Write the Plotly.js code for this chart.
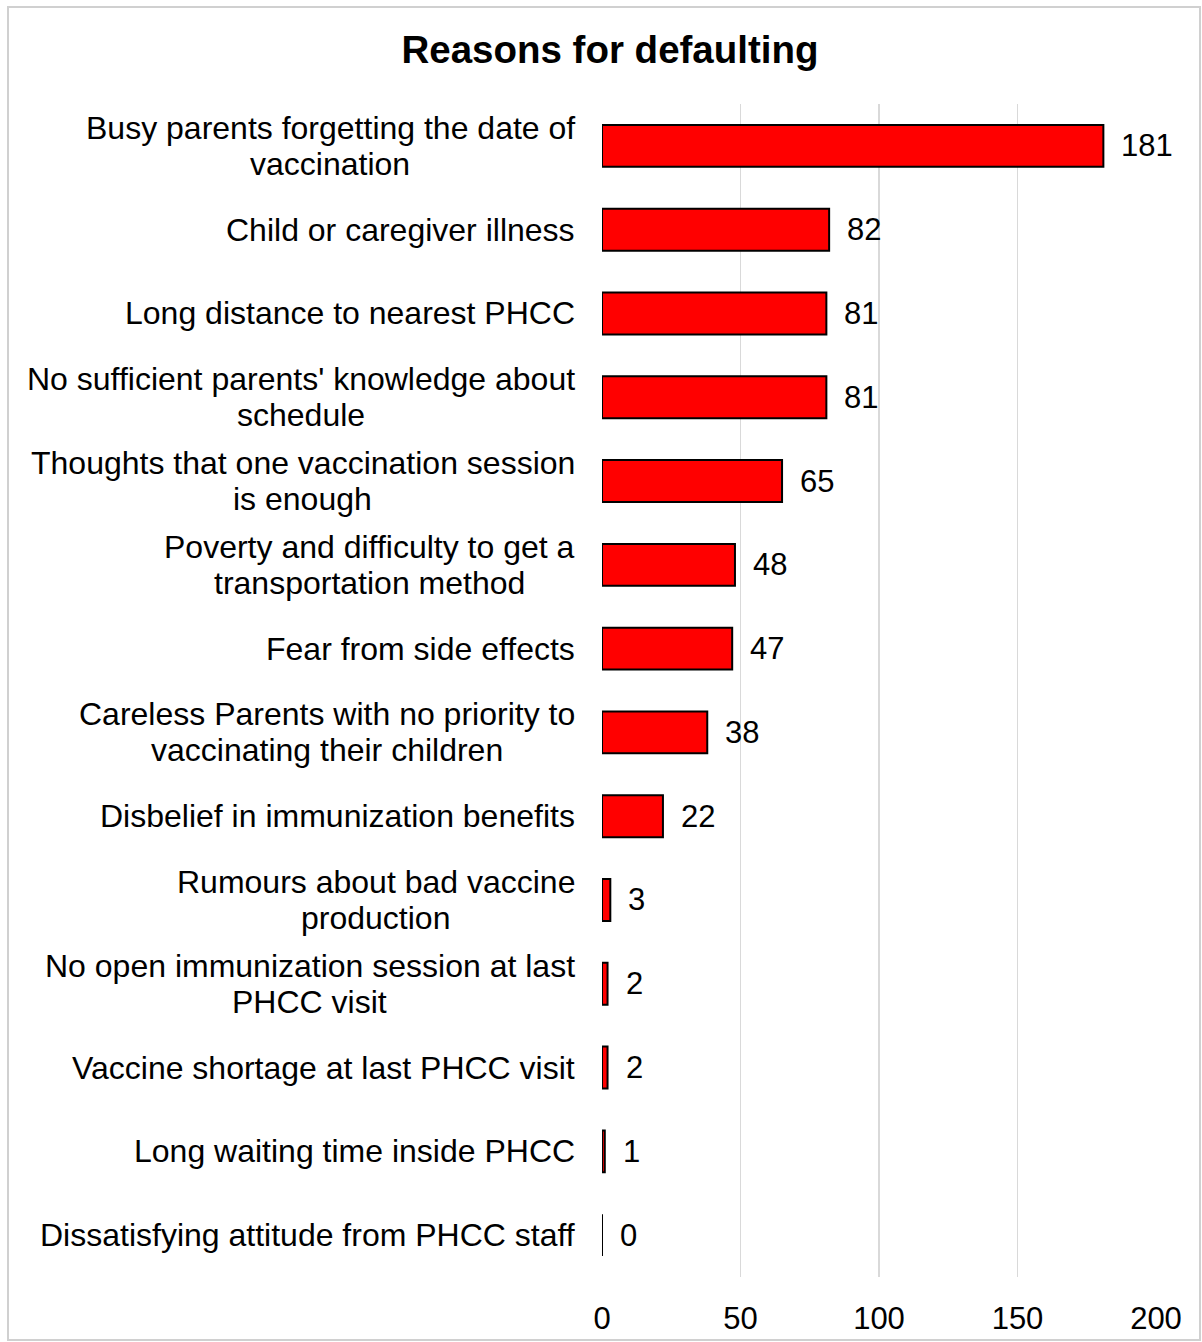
<!DOCTYPE html>
<html>
<head>
<meta charset="utf-8">
<script src="https://cdn.plot.ly/plotly-3.0.1.min.js"></script>
<style>
  html, body { margin: 0; padding: 0; background: #ffffff; }
  #chart { width: 1202px; height: 1342px; }
</style>
</head>
<body>
<div id="chart"></div>
<script>
const categories = [
  "Busy parents forgetting the date of<br>vaccination",
  "Child or caregiver illness",
  "Long distance to nearest PHCC",
  "No sufficient parents' knowledge about<br>schedule",
  "Thoughts that one vaccination session<br>is enough",
  "Poverty and difficulty to get a<br>transportation method",
  "Fear from side effects",
  "Careless Parents with no priority to<br>vaccinating their children",
  "Disbelief in immunization benefits",
  "Rumours about bad vaccine<br>production",
  "No open immunization session at last<br>PHCC visit",
  "Vaccine shortage at last PHCC visit",
  "Long waiting time inside PHCC",
  "Dissatisfying attitude from PHCC staff"
];
const counts = [181, 82, 81, 81, 65, 48, 47, 38, 22, 3, 2, 2, 1, 0];
const xTicks = [0, 50, 100, 150, 200];
const chartTitle = "Reasons for defaulting";

const FONT = "Liberation Sans, Arial, sans-serif";
const FS = 31;
const LABEL_FS = 32;
const LINE = 36;

const trace = {
  type: "bar",
  orientation: "h",
  x: counts,
  y: categories,
  marker: { color: "#ff0000", line: { color: "#000000", width: 2 } },
  hoverinfo: "x+y"
};

const valueLabels = categories.map((c, i) => ({
  x: counts[i], y: c, xref: "x", yref: "y",
  text: String(counts[i]), showarrow: false,
  xanchor: "left", yanchor: "middle", xshift: 16,
  font: { family: FONT, size: FS, color: "#000000" }
}));

function measure(text) {
  const cv = document.createElement("canvas").getContext("2d");
  cv.font = LABEL_FS + "px " + FONT;
  return cv.measureText(text).width;
}

// Multi-line labels are centred on their widest line, whose right edge sits next to the axis.
const catLabels = [];
categories.forEach((c) => {
  const lines = c.split("<br>");
  const n = lines.length;
  const maxW = Math.max.apply(null, lines.map(measure));
  lines.forEach((ln, k) => {
    catLabels.push({
      x: 0, y: c, xref: "x", yref: "y",
      text: ln, showarrow: false,
      xanchor: "right", yanchor: "middle",
      xshift: -25 - (maxW - measure(ln)) / 2,
      yshift: ((n - 1) / 2 - k) * LINE,
      font: { family: FONT, size: LABEL_FS, color: "#000000" }
    });
  });
});

const layout = {
  width: 1202, height: 1342,
  paper_bgcolor: "#ffffff", plot_bgcolor: "#ffffff",
  margin: { l: 602, r: 46, t: 104, b: 65 },
  bargap: 0.5,
  showlegend: false,
  title: {
    text: "<b>" + chartTitle + "</b>",
    xref: "container", yref: "container",
    x: 610 / 1202, y: 1 - 50 / 1342,
    xanchor: "center", yanchor: "middle",
    font: { family: FONT, size: 38.5, color: "#000000" }
  },
  xaxis: {
    range: [0, 200],
    tickvals: xTicks,
    ticktext: xTicks.map(String),
    showgrid: true, gridcolor: "#d9d9d9", gridwidth: 1.5,
    zeroline: false, showline: false, ticks: "",
    ticklabelstandoff: 20,
    tickfont: { family: FONT, size: FS, color: "#000000" },
    fixedrange: true
  },
  yaxis: {
    type: "category",
    categoryorder: "array", categoryarray: categories,
    autorange: "reversed",
    showticklabels: false, showgrid: false, zeroline: false, showline: false, ticks: "",
    fixedrange: true
  },
  annotations: valueLabels.concat(catLabels),
  shapes: [{
    type: "rect", xref: "paper", yref: "paper",
    x0: (8 - 602) / 554, x1: (1200 - 602) / 554,
    y0: (1277 - 1340) / 1173, y1: (1277 - 7) / 1173,
    line: { color: "#d0d0d0", width: 2 }, fillcolor: "rgba(0,0,0,0)", layer: "below"
  }]
};

Plotly.newPlot("chart", [trace], layout, { displayModeBar: false, staticPlot: true });
</script>
</body>
</html>
